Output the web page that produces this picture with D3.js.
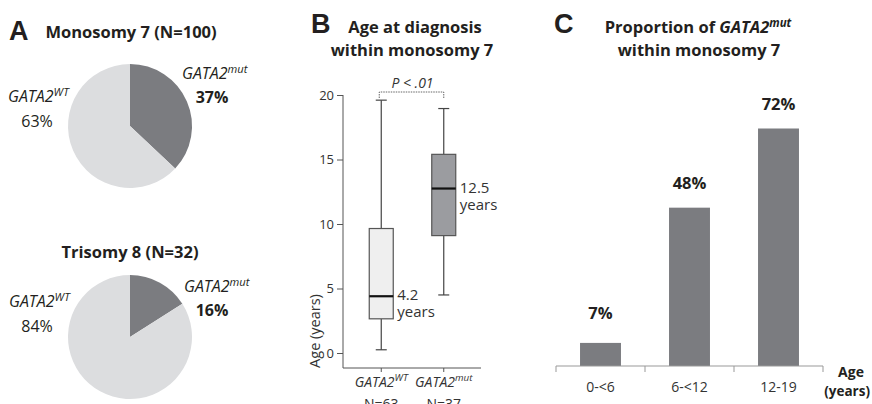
<!DOCTYPE html>
<html>
<head>
<meta charset="utf-8">
<script src="https://cdn.jsdelivr.net/npm/d3@7"></script>
<style>
  html, body { margin: 0; padding: 0; background: #fff; }
  svg { display: block; font-family: "Open Sans", "Noto Sans", sans-serif; }
</style>
</head>
<body>
<svg id="chart" width="872" height="404"></svg>
<script>
// ---------- DATA ----------
const pieGroups = ["Monosomy 7 (N=100)", "Trisomy 8 (N=32)"];
const pieMutPct = [37, 16];
const pieWtPct = [63, 84];

const boxCategories = ["WT", "mut"];
const boxN = [63, 37];
const boxWhiskerLow = [0.25, 4.5];
const boxQ1 = [2.65, 9.1];
const boxMedian = [4.4, 12.75];
const boxQ3 = [9.65, 15.4];
const boxWhiskerHigh = [19.6, 18.95];
const boxMedianLabels = ["4.2", "12.5"];
const boxYTicks = [0, 5, 10, 15, 20];

const barCategories = ["0-<6", "6-<12", "12-19"];
const barValues = [7, 48, 72];

// ---------- STYLE ----------
const darkGrey = "#7b7c80";
const lightGrey = "#dcdddf";
const textCol = "#231f20";
const axisCol = "#555";

const svg = d3.select("#chart");

function addLabelGATA(sel, sup, opts) {
  const t = sel.append("text")
    .attr("x", opts.x).attr("y", opts.y)
    .attr("text-anchor", opts.anchor || "start")
    .attr("font-size", opts.size || 16)
    .attr("fill", opts.fill || textCol)
    .attr("font-style", "italic");
  t.append("tspan").text("GATA2");
  t.append("tspan").attr("dy", -6).attr("font-size", (opts.size || 16) * 0.7).text(sup);
  return t;
}

// ---------- PANEL A: pies ----------
const panelA = svg.append("g");
panelA.append("text").attr("x", 9).attr("y", 40).attr("font-size", 27).attr("font-weight", 700)
  .attr("font-family", "Liberation Sans, Arial, sans-serif").attr("fill", textCol).text("A");

const pieCenters = [{x: 130, y: 126}, {x: 130, y: 337}];
const titleY = [38, 258];
const pieR = 62;
const pieGen = d3.pie().sort(null).value(d => d);
const arcGen = d3.arc().innerRadius(0).outerRadius(pieR);

pieGroups.forEach((name, i) => {
  const g = panelA.append("g");
  g.append("text").attr("x", i === 0 ? 131 : 130).attr("y", titleY[i]).attr("text-anchor", "middle")
    .attr("font-size", 16.5).attr("font-weight", 700).attr("fill", textCol).text(name);
  const pg = g.append("g").attr("transform", `translate(${pieCenters[i].x},${pieCenters[i].y})`);
  pg.selectAll("path").data(pieGen([pieMutPct[i], pieWtPct[i]])).join("path")
    .attr("d", arcGen)
    .attr("fill", (d, j) => j === 0 ? darkGrey : lightGrey);

  const mutLabelY = i === 0 ? 79 : 292;
  const wtLabelY = i === 0 ? 102 : 307;
  addLabelGATA(g, "mut", {x: i === 0 ? 182 : 184, y: mutLabelY, size: 16});
  g.append("text").attr("x", 212).attr("y", mutLabelY + 24).attr("text-anchor", "middle")
    .attr("font-size", 16).attr("font-weight", 700).attr("fill", textCol).text(pieMutPct[i] + "%");
  addLabelGATA(g, "WT", {x: i === 0 ? 8 : 9, y: wtLabelY, size: 16});
  g.append("text").attr("x", 37).attr("y", wtLabelY + 25).attr("text-anchor", "middle")
    .attr("font-size", 16).attr("fill", textCol).text(pieWtPct[i] + "%");
});

// ---------- PANEL B: box plot ----------
const panelB = svg.append("g");
panelB.append("text").attr("x", 311).attr("y", 33).attr("font-size", 27).attr("font-weight", 700)
  .attr("font-family", "Liberation Sans, Arial, sans-serif").attr("fill", textCol).text("B");
panelB.append("text").attr("x", 415).attr("y", 33).attr("text-anchor", "middle")
  .attr("font-size", 16.5).attr("font-weight", 700).attr("fill", textCol).text("Age at diagnosis");
panelB.append("text").attr("x", 412).attr("y", 56).attr("text-anchor", "middle")
  .attr("font-size", 16.5).attr("font-weight", 700).attr("fill", textCol).text("within monosomy 7");

const bY = d3.scaleLinear().domain([0, 20]).range([353, 95]);
const bX = d3.scaleBand().domain(boxCategories).range([350, 475]).paddingInner(0.0).paddingOuter(0);
const boxW = 24, capW = 11;
const bXc = c => bX(c) + bX.bandwidth() / 2;

// y axis
const yAxisB = d3.axisLeft(bY).tickValues(boxYTicks).tickSize(6).tickPadding(3);
const gyB = panelB.append("g").attr("transform", "translate(343,0)").call(yAxisB);
gyB.select(".domain").attr("d", `M0,95V368`).attr("stroke", axisCol);
gyB.selectAll(".tick line").attr("stroke", axisCol);
gyB.selectAll(".tick text").attr("font-size", 13).attr("fill", "#333").attr("font-family", "Open Sans, sans-serif");

// x axis
const gxB = panelB.append("g").attr("transform", "translate(0,368)");
gxB.append("line").attr("x1", 343).attr("x2", 481).attr("y1", 0).attr("y2", 0).attr("stroke", axisCol);
gxB.selectAll("line.tk").data(boxCategories).join("line").attr("class", "tk")
  .attr("x1", d => bXc(d)).attr("x2", d => bXc(d)).attr("y1", 0).attr("y2", 4).attr("stroke", axisCol);

panelB.append("text").attr("transform", "translate(320,331) rotate(-90)").attr("text-anchor", "middle")
  .attr("font-size", 14.5).attr("fill", "#333").text("Age (years)");

const boxFill = ["#efefef", "#9b9ca0"];
boxCategories.forEach((c, i) => {
  const cx = bXc(c);
  const g = panelB.append("g");
  // whiskers
  g.append("line").attr("x1", cx).attr("x2", cx).attr("y1", bY(boxWhiskerHigh[i])).attr("y2", bY(boxQ3[i]))
    .attr("stroke", "#444").attr("stroke-width", 1.2);
  g.append("line").attr("x1", cx).attr("x2", cx).attr("y1", bY(boxQ1[i])).attr("y2", bY(boxWhiskerLow[i]))
    .attr("stroke", "#444").attr("stroke-width", 1.2);
  [boxWhiskerHigh[i], boxWhiskerLow[i]].forEach(v => {
    g.append("line").attr("x1", cx - capW / 2).attr("x2", cx + capW / 2).attr("y1", bY(v)).attr("y2", bY(v))
      .attr("stroke", "#444").attr("stroke-width", 1.2);
  });
  g.append("rect").attr("x", cx - boxW / 2).attr("width", boxW)
    .attr("y", bY(boxQ3[i])).attr("height", bY(boxQ1[i]) - bY(boxQ3[i]))
    .attr("fill", boxFill[i]).attr("stroke", "#555").attr("stroke-width", 1.2);
  g.append("line").attr("x1", cx - boxW / 2).attr("x2", cx + boxW / 2)
    .attr("y1", bY(boxMedian[i])).attr("y2", bY(boxMedian[i])).attr("stroke", "#111").attr("stroke-width", 2.2);
  // median labels
  g.append("text").attr("x", cx + boxW / 2 + 4).attr("y", bY(boxMedian[i]) + 4)
    .attr("font-size", 15).attr("fill", "#333").text(boxMedianLabels[i]);
  g.append("text").attr("x", cx + boxW / 2 + 4).attr("y", bY(boxMedian[i]) + 21)
    .attr("font-size", 15).attr("fill", "#333").text("years");
  // category labels
  addLabelGATA(g, c, {x: cx, y: 387, size: 14, anchor: "middle", fill: "#333"});
  g.append("text").attr("x", cx).attr("y", 409).attr("text-anchor", "middle")
    .attr("font-size", 14).attr("fill", "#333").text("N=" + boxN[i]);
});

// significance bracket
const x0 = bXc(boxCategories[0]), x1 = bXc(boxCategories[1]);
panelB.append("path").attr("d", `M${x0 - 2},98V92H${x1}V98`).attr("fill", "none")
  .attr("stroke", "#666").attr("stroke-width", 1).attr("stroke-dasharray", "1.5,1");
panelB.append("text").attr("x", (x0 + x1) / 2).attr("y", 88).attr("text-anchor", "middle")
  .attr("font-size", 14).attr("font-style", "italic").attr("fill", "#333").text("P < .01");

// ---------- PANEL C: bars ----------
const panelC = svg.append("g");
panelC.append("text").attr("x", 554).attr("y", 33).attr("font-size", 27).attr("font-weight", 700)
  .attr("font-family", "Liberation Sans, Arial, sans-serif").attr("fill", textCol).text("C");
const tC = panelC.append("text").attr("x", 698).attr("y", 33).attr("text-anchor", "middle")
  .attr("font-size", 16.5).attr("font-weight", 700).attr("fill", textCol);
tC.append("tspan").text("Proportion of ");
tC.append("tspan").attr("font-style", "italic").text("GATA2");
tC.append("tspan").attr("font-style", "italic").attr("font-size", 11.5).attr("dy", -6).text("mut");
panelC.append("text").attr("x", 699).attr("y", 56).attr("text-anchor", "middle")
  .attr("font-size", 16.5).attr("font-weight", 700).attr("fill", textCol).text("within monosomy 7");

const cX = d3.scaleBand().domain(barCategories).range([556, 823]).paddingInner(0.54).paddingOuter(0.27);
const cY = d3.scaleLinear().domain([0, 72]).range([366, 128.5]);

panelC.selectAll("rect.bar").data(barValues).join("rect").attr("class", "bar")
  .attr("x", (d, i) => cX(barCategories[i])).attr("width", cX.bandwidth())
  .attr("y", d => cY(d)).attr("height", d => cY(0) - cY(d)).attr("fill", darkGrey);

panelC.selectAll("text.val").data(barValues).join("text").attr("class", "val")
  .attr("x", (d, i) => cX(barCategories[i]) + cX.bandwidth() / 2)
  .attr("y", (d, i) => cY(d) - (i === 0 ? 24 : 19))
  .attr("text-anchor", "middle").attr("font-size", 16.5).attr("font-weight", 700).attr("fill", textCol)
  .text(d => d + "%");

// axis
const band = (823 - 556) / 3;
const gxC = panelC.append("g").attr("transform", "translate(0,366)");
gxC.append("line").attr("x1", 556).attr("x2", 823).attr("stroke", "#999");
gxC.selectAll("line.tk").data(d3.range(4)).join("line").attr("class", "tk")
  .attr("x1", d => 556 + d * band).attr("x2", d => 556 + d * band).attr("y1", 0).attr("y2", 6).attr("stroke", "#999");
gxC.selectAll("text.cat").data(barCategories).join("text").attr("class", "cat")
  .attr("x", d => cX(d) + cX.bandwidth() / 2).attr("y", 26).attr("text-anchor", "middle")
  .attr("font-size", 14).attr("fill", "#333").text(d => d);
panelC.append("text").attr("x", 851).attr("y", 377).attr("text-anchor", "middle")
  .attr("font-size", 14).attr("font-weight", 700).attr("fill", textCol).text("Age");
panelC.append("text").attr("x", 870).attr("y", 396).attr("text-anchor", "end")
  .attr("font-size", 13.5).attr("font-weight", 700).attr("fill", textCol).text("(years)");
</script>
</body>
</html>
